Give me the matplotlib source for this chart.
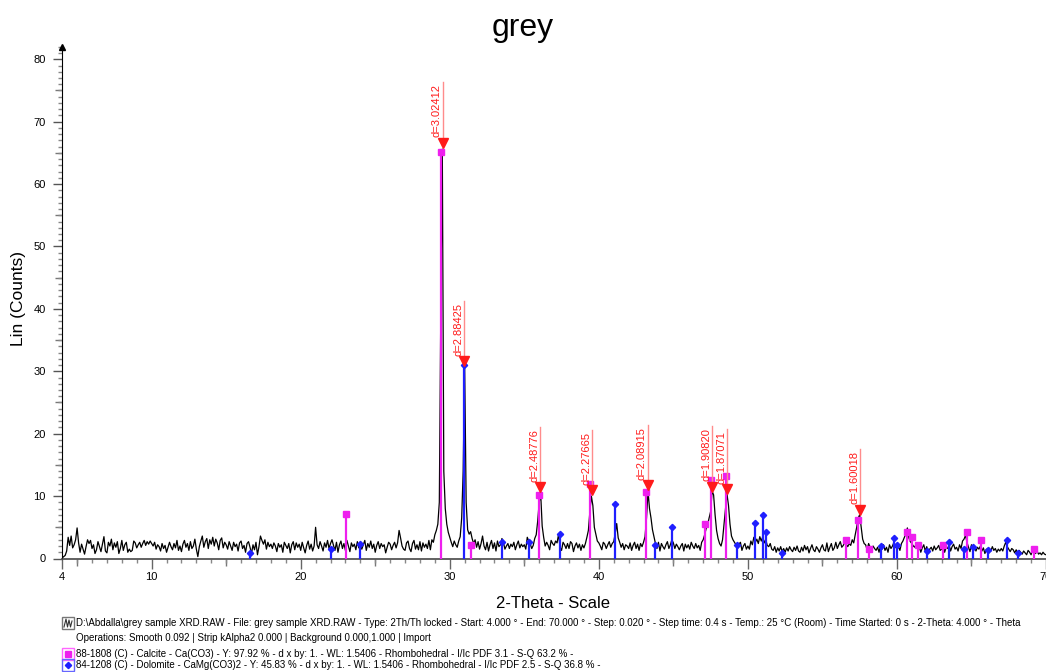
import math

import matplotlib
matplotlib.use("Agg")
import matplotlib.pyplot as plt
from matplotlib.patches import Rectangle
from matplotlib.ticker import MultipleLocator, FixedLocator
import numpy as np

plt.rcParams["font.family"] = ["Liberation Sans", "DejaVu Sans"]

# --- scan (counts every 0.1 deg, 4..70 deg 2-theta), one row per degree --
TT_START, TT_STEP = 4.0, 0.1
counts = [
    0.1, 0.3, 0.5, 1.2, 3.4, 2.1, 3.6, 1.7, 2.2, 3.0,    # 4
    4.9, 2.5, 1.0, 2.3, 1.5, 0.7, 1.9, 3.0, 2.4, 2.9,    # 5
    1.6, 2.2, 0.8, 1.4, 2.7, 1.9, 1.1, 2.3, 3.5, 1.2,    # 6
    0.9, 2.6, 2.0, 3.1, 1.4, 2.5, 1.8, 2.7, 0.8, 1.6,    # 7
    2.9, 1.3, 2.2, 2.6, 1.0, 1.5, 1.1, 1.3, 2.8, 2.5,    # 8
    1.7, 2.2, 2.6, 1.8, 2.4, 2.9, 2.1, 2.7, 2.3, 2.8,    # 9
    2.4, 2.0, 2.6, 1.5, 2.2, 1.9, 1.2, 2.4, 1.6, 2.1,    # 10
    1.0, 1.8, 2.6, 1.9, 1.4, 2.4, 1.7, 2.9, 1.3, 2.0,    # 11
    1.1, 2.3, 2.9, 1.8, 2.4, 1.3, 2.7, 1.6, 2.0, 3.1,    # 12
    1.5, 0.3, 1.9, 2.8, 3.6, 1.8, 2.7, 3.2, 1.6, 3.0,    # 13
    2.3, 3.4, 2.0, 3.1, 2.5, 1.4, 2.9, 3.3, 1.7, 2.6,    # 14
    2.2, 1.5, 2.7, 2.0, 1.3, 2.6, 1.9, 2.3, 1.2, 2.5,    # 15
    2.8, 1.6, 2.1, 1.0, 2.4, 2.7, 1.8, 0.8, 2.2, 1.4,    # 16
    2.6, 0.6, 1.9, 3.6, 2.9, 2.3, 3.0, 1.5, 2.6, 1.9,    # 17
    2.3, 1.6, 2.5, 2.0, 1.1, 2.4, 1.8, 2.2, 1.0, 2.6,    # 18
    2.1, 1.6, 2.4, 0.9, 2.2, 2.7, 1.4, 2.5, 1.8, 2.3,    # 19
    1.3, 2.6, 1.7, 0.9, 2.1, 2.8, 1.5, 2.3, 1.2, 2.0,    # 20
    5.0, 2.2, 1.6, 2.7, 2.0, 1.2, 2.5, 1.8, 2.9, 1.6,    # 21
    2.4, 3.0, 2.1, 1.3, 2.6, 1.0, 2.2, 2.8, 1.6, 2.4,    # 22
    1.3, 2.9, 2.0, 1.1, 2.5, 1.9, 2.3, 1.4, 2.7, 1.7,    # 23
    2.6, 1.5, 2.2, 2.9, 1.3, 2.4, 1.8, 2.8, 1.6, 2.3,    # 24
    1.0, 2.1, 2.7, 1.6, 2.4, 1.9, 2.2, 0.9, 1.8, 2.6,    # 25
    2.3, 1.4, 2.1, 2.6, 1.7, 2.5, 4.5, 3.3, 2.0, 1.5,    # 26
    1.3, 2.5, 2.8, 1.6, 1.1, 2.4, 2.9, 1.5, 2.2, 1.4,    # 27
    2.7, 1.2, 2.5, 1.8, 2.3, 1.6, 2.9, 1.4, 3.0, 2.6,    # 28
    3.8, 4.5, 5.5, 9.0, 40.0, 65.6, 14.0, 8.0, 5.5, 4.2,  # 29
    3.4, 2.6, 1.9, 2.8, 2.2, 1.8, 2.8, 3.5, 6.5, 14.0,   # 30
    30.8, 9.0, 4.6, 3.9, 4.3, 3.2, 2.4, 3.0, 1.8, 2.7,   # 31
    1.5, 2.4, 3.6, 2.0, 1.4, 2.6, 1.2, 2.2, 2.9, 1.6,    # 32
    2.5, 1.2, 2.8, 1.9, 2.2, 3.2, 2.6, 1.5, 2.0, 2.4,    # 33
    1.6, 2.3, 1.9, 2.6, 1.4, 2.2, 2.8, 1.7, 2.3, 1.9,    # 34
    2.2, 1.5, 3.4, 2.8, 2.3, 1.6, 2.1, 3.2, 3.8, 6.0,    # 35
    9.0, 10.4, 5.2, 3.4, 2.0, 2.6, 2.1, 1.4, 2.9, 2.4,   # 36
    2.1, 2.8, 2.5, 3.9, 1.8, 1.3, 2.6, 2.2, 1.6, 2.4,    # 37
    1.6, 2.7, 2.4, 1.1, 2.0, 2.5, 1.7, 2.3, 1.3, 2.2,    # 38
    1.7, 2.4, 3.4, 4.5, 7.5, 10.0, 8.5, 5.0, 3.9, 2.8,   # 39
    2.5, 2.0, 1.4, 2.6, 2.3, 1.6, 2.2, 2.7, 1.8, 2.4,    # 40
    2.7, 4.0, 5.6, 3.3, 2.6, 1.8, 2.4, 1.4, 2.2, 2.0,    # 41
    1.6, 2.5, 1.3, 2.1, 2.6, 1.6, 2.3, 1.3, 2.4, 1.9,    # 42
    2.6, 3.5, 6.5, 10.8, 8.0, 6.5, 4.6, 3.5, 2.4, 1.6,   # 43
    2.6, 1.2, 2.4, 1.9, 1.5, 2.2, 2.7, 1.6, 2.2, 3.0,    # 44
    2.5, 1.6, 2.3, 1.9, 1.4, 2.0, 2.4, 1.2, 2.3, 1.7,    # 45
    2.2, 1.5, 2.6, 2.0, 1.6, 2.4, 1.7, 2.1, 1.3, 2.6,    # 46
    3.0, 3.8, 4.8, 5.4, 6.5, 7.5, 10.8, 10.2, 7.0, 4.5,  # 47
    3.2, 2.4, 2.0, 3.0, 5.5, 8.0, 10.3, 8.5, 5.5, 3.6,   # 48
    3.0, 2.6, 2.2, 1.6, 2.3, 2.6, 1.3, 2.0, 2.4, 1.5,    # 49
    2.0, 1.5, 2.8, 2.2, 3.4, 2.6, 3.1, 2.4, 3.5, 2.8,    # 50
    3.5, 2.5, 3.0, 2.1, 1.9, 2.4, 1.5, 1.3, 1.9, 1.0,    # 51
    1.7, 1.2, 1.9, 1.1, 1.6, 1.0, 1.7, 1.2, 1.9, 1.4,    # 52
    1.1, 1.8, 1.3, 2.0, 1.2, 1.0, 1.8, 1.2, 2.1, 1.4,    # 53
    1.9, 0.9, 1.6, 2.2, 1.4, 1.1, 1.9, 1.5, 1.0, 1.7,    # 54
    2.2, 1.4, 1.2, 2.5, 1.1, 1.8, 2.4, 1.3, 1.7, 2.6,    # 55
    1.6, 2.2, 2.7, 1.8, 2.1, 2.6, 2.3, 1.9, 2.4, 2.1,    # 56
    3.0, 2.5, 3.8, 5.0, 6.5, 7.0, 5.0, 3.1, 2.4, 2.2,    # 57
    1.4, 2.4, 1.8, 1.2, 2.0, 1.6, 1.3, 1.8, 1.0, 2.1,    # 58
    1.5, 2.2, 1.3, 1.8, 1.0, 2.2, 1.6, 2.0, 2.6, 1.9,    # 59
    1.5, 1.9, 1.3, 2.4, 2.8, 3.4, 4.0, 4.9, 3.3, 2.7,    # 60
    2.4, 2.0, 1.8, 2.5, 1.4, 1.9, 1.0, 1.7, 2.2, 1.2,    # 61
    1.9, 1.0, 1.5, 1.8, 1.2, 2.0, 1.4, 1.7, 2.1, 1.3,    # 62
    1.5, 2.3, 1.0, 1.8, 1.6, 2.2, 1.2, 1.9, 2.3, 1.5,    # 63
    1.8, 1.2, 2.2, 1.6, 2.8, 3.1, 3.7, 2.6, 1.8, 1.1,    # 64
    2.2, 1.4, 1.9, 1.2, 1.8, 1.5, 2.0, 1.2, 1.7, 0.8,    # 65
    1.5, 1.0, 1.6, 1.2, 1.9, 1.3, 1.6, 1.0, 1.5, 1.2,    # 66
    1.6, 1.2, 2.0, 2.6, 1.9, 1.5, 1.1, 1.6, 1.4, 0.9,    # 67
    1.4, 0.8, 1.3, 1.0, 0.7, 1.2, 0.9, 0.6, 1.3, 1.0,    # 68
    0.6, 1.5, 1.0, 0.8, 1.2, 0.7, 0.9, 0.6, 1.0, 0.7,    # 69
    0.6,                                                 # 70
]
two_theta = TT_START + TT_STEP * np.arange(len(counts))

# --- reference patterns (stick positions, scaled intensity) -------------
calcite_2t = [23.06, 29.41, 31.44, 35.97, 39.42, 43.17, 47.12, 47.51, 48.52,
              56.58, 57.41, 58.10, 60.68, 61.01, 61.38, 63.07, 64.68, 65.62, 69.20]
calcite_i = [7.2, 65.2, 2.1, 10.1, 11.9, 10.6, 5.5, 12.5, 13.2,
             2.9, 6.1, 1.6, 4.2, 3.4, 2.2, 2.2, 4.2, 2.9, 1.6]

dolomite_2t = [16.6, 22.0, 24.0, 30.96, 33.5, 35.3, 37.38, 41.1, 43.8, 44.9,
               49.3, 50.5, 51.0, 51.2, 52.3, 58.9, 59.8, 60.0, 62.0, 63.5,
               64.5, 65.1, 66.1, 67.4, 68.1]
dolomite_i = [0.9, 1.6, 2.4, 31.0, 2.6, 2.6, 4.0, 8.7, 2.2, 5.1,
              2.1, 5.7, 6.9, 4.2, 0.9, 2.0, 3.3, 2.2, 1.2, 2.7,
              1.6, 1.8, 1.4, 3.0, 0.9]

# --- peak search results (d in Angstrom) --------------------------------
d_values = [3.02412, 2.88425, 2.48776, 2.27665, 2.08915, 1.90820, 1.87071, 1.60018]
d_marker_y = [66.6, 31.6, 11.4, 10.9, 11.7, 11.5, 11.1, 7.8]
WL = 1.5406
peak_2t = [2 * math.degrees(math.asin(WL / (2 * d))) for d in d_values]

header_lines = [
    "D:\\Abdalla\\grey sample XRD.RAW - File: grey sample XRD.RAW - Type: 2Th/Th locked - "
    "Start: 4.000 \u00b0 - End: 70.000 \u00b0 - Step: 0.020 \u00b0 - Step time: 0.4 s - "
    "Temp.: 25 \u00b0C (Room) - Time Started: 0 s - 2-Theta: 4.000 \u00b0 - Theta",
    "Operations: Smooth 0.092 | Strip kAlpha2 0.000 | Background 0.000,1.000 | Import",
    "88-1808 (C) - Calcite - Ca(CO3) - Y: 97.92 % - d x by: 1. - WL: 1.5406 - "
    "Rhombohedral - I/Ic PDF 3.1 - S-Q 63.2 % -",
    "84-1208 (C) - Dolomite - CaMg(CO3)2 - Y: 45.83 % - d x by: 1. - WL: 1.5406 - "
    "Rhombohedral - I/Ic PDF 2.5 - S-Q 36.8 % -",
]

CALCITE = "#ee1fee"
DOLOMITE = "#1f1fff"
PEAK = "#ff1a1a"

W, H = 1046, 672
fig = plt.figure(figsize=(W / 100, H / 100), dpi=100)


def fx(px):
    return px / W


def fy(py):
    return 1 - py / H


X0, Y0, YTOP = 62.2, 558.5, 46.8
ax = fig.add_axes([fx(X0), fy(Y0), 1 - fx(X0), (Y0 - YTOP) / H])
ax.set_xlim(4, 70)
ax.set_ylim(0, 82)

ax.plot(two_theta, counts, color="black", lw=0.9, zorder=3)

ax.vlines(calcite_2t, 0, calcite_i, color=CALCITE, lw=1.6, zorder=4)
ax.plot(calcite_2t, calcite_i, "s", color=CALCITE, ms=4.2, zorder=5)
ax.vlines(dolomite_2t, 0, dolomite_i, color=DOLOMITE, lw=1.6, zorder=4)
ax.plot(dolomite_2t, dolomite_i, "D", color=DOLOMITE, ms=3.2, zorder=5)

ax.plot(peak_2t, d_marker_y, "v", color=PEAK, ms=6.5, zorder=6)
labels = []
for t, h, d in zip(peak_2t, d_marker_y, d_values):
    txt = ax.annotate(f"d={d:.5f}", xy=(t, h), xytext=(-0.6, 4.0),
                      textcoords="offset points", rotation=90,
                      ha="right", va="bottom", fontsize=8, color=PEAK, zorder=6)
    labels.append((t, h, txt))

# spines / ticks (lengths in points, 1 pt = 1.39 px here)
for s in ("top", "right"):
    ax.spines[s].set_visible(False)
ax.spines["left"].set_color("black")
ax.spines["bottom"].set_color("#555555")
ax.spines["bottom"].set_linewidth(1.3)

ax.xaxis.set_major_locator(FixedLocator([4, 10, 20, 30, 40, 50, 60, 70]))
ax.xaxis.set_minor_locator(MultipleLocator(1))
ax.yaxis.set_major_locator(MultipleLocator(10))
ax.yaxis.set_minor_locator(MultipleLocator(1))
ax.tick_params(axis="x", which="major", length=7, width=1, color="#666666",
               labelsize=8, pad=3)
ax.tick_params(axis="x", which="minor", length=3, width=1, color="#888888")
ax.tick_params(axis="y", which="major", length=6.5, width=1, color="#555555",
               labelsize=8, pad=5.5)
ax.tick_params(axis="y", which="minor", length=3, width=1, color="#888888")

secx = ax.secondary_xaxis("bottom")
secx.set_xticks(range(5, 70, 10))
secx.tick_params(length=5, width=1, color="#777777", labelbottom=False)
secx.spines["bottom"].set_visible(False)
secy = ax.secondary_yaxis("left")
secy.set_yticks(range(5, 80, 10))
secy.tick_params(length=4.7, width=1, color="#777777", labelleft=False)
secy.spines["left"].set_visible(False)

ax.plot([0], [1], marker="^", color="black", ms=4, transform=ax.transAxes,
        clip_on=False, zorder=7)

fig.text(0.5, fy(28), "grey", ha="center", va="center", fontsize=23)
fig.text(fx(19), fy(298), "Lin (Counts)", rotation=90, ha="center",
         va="center", fontsize=12.5)
fig.text(fx(553), fy(603), "2-Theta - Scale", ha="center", va="center",
         fontsize=12)

# header block below the axis
line_y = [623, 638, 654, 665]
hdr = [fig.text(fx(76), fy(y), s, ha="left", va="center", fontsize=7)
       for s, y in zip(header_lines, line_y)]

fig.canvas.draw()
r = fig.canvas.get_renderer()
w0 = hdr[0].get_window_extent(r).width
fs = 7 * (1030 - 76) / w0
for t in hdr:
    t.set_fontsize(fs)

# leader lines next to the d labels
inv = ax.transData.inverted()
for t, h, txt in labels:
    bb = txt.get_window_extent(r)
    top = inv.transform((0, bb.y1 + 2))[1]
    ax.plot([t, t], [h, top], color="#ff8c8c", lw=1.0, zorder=5, clip_on=False)


# icons for the header lines
def icon_box(py, edge):
    fig.patches.append(Rectangle((fx(62), fy(py + 6)), 12 / W, 12 / H,
                                 transform=fig.transFigure, fill=False,
                                 edgecolor=edge, lw=1.0))


icon_box(line_y[0], "#777777")
fig.lines.append(plt.Line2D([fx(64), fx(66), fx(67.5), fx(69), fx(70.5), fx(72)],
                            [fy(627), fy(619), fy(627), fy(620), fy(627), fy(621)],
                            transform=fig.transFigure, color="#333333", lw=0.8))
icon_box(line_y[2], "#ff66ff")
fig.patches.append(Rectangle((fx(65), fy(line_y[2] + 3)), 6 / W, 6 / H,
                             transform=fig.transFigure, color=CALCITE))
icon_box(line_y[3], "#6666ff")
fig.lines.append(plt.Line2D([fx(68)], [fy(line_y[3])], marker="D", ms=3.2,
                            color=DOLOMITE, transform=fig.transFigure))

fig.savefig("out.png", dpi=100)
